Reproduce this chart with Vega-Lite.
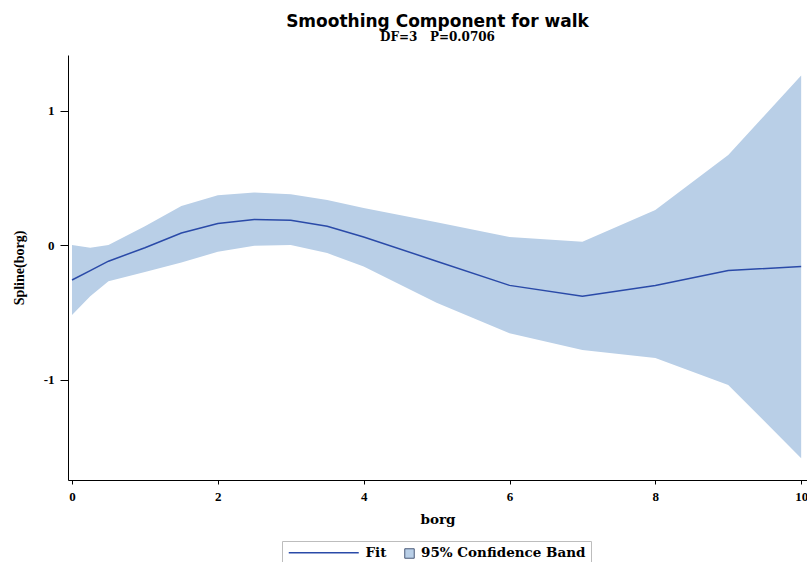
{
  "$schema": "https://vega.github.io/schema/vega-lite/v6.json",
  "width": 739,
  "height": 425,
  "autosize": "none",
  "padding": {"left": 68, "top": 55, "right": 0, "bottom": 82},
  "background": "white",
  "title": {
    "text": "Smoothing Component for walk",
    "subtitle": "DF=3\u00a0\u00a0\u00a0P=0.0706",
    "font": "DejaVu Sans",
    "fontSize": 17,
    "fontWeight": "bold",
    "color": "black",
    "subtitleFont": "DejaVu Serif",
    "subtitleFontSize": 12,
    "subtitleFontWeight": "bold",
    "subtitleColor": "black",
    "subtitlePadding": 1,
    "anchor": "middle",
    "offset": 11
  },
  "data": {
    "values": [
      {"borg": 0, "fit": -0.26, "lower": -0.52, "upper": 0.0},
      {"borg": 0.25, "fit": -0.19, "lower": -0.38, "upper": -0.02},
      {"borg": 0.5, "fit": -0.12, "lower": -0.27, "upper": 0.0},
      {"borg": 1, "fit": -0.02, "lower": -0.2, "upper": 0.14},
      {"borg": 1.5, "fit": 0.09, "lower": -0.13, "upper": 0.29},
      {"borg": 2, "fit": 0.16, "lower": -0.05, "upper": 0.37},
      {"borg": 2.5, "fit": 0.19, "lower": -0.005, "upper": 0.39},
      {"borg": 3, "fit": 0.185, "lower": 0.0, "upper": 0.377},
      {"borg": 3.5, "fit": 0.14, "lower": -0.06, "upper": 0.335},
      {"borg": 4, "fit": 0.06, "lower": -0.16, "upper": 0.275},
      {"borg": 5, "fit": -0.12, "lower": -0.43, "upper": 0.17},
      {"borg": 6, "fit": -0.3, "lower": -0.655, "upper": 0.06},
      {"borg": 7, "fit": -0.38, "lower": -0.78, "upper": 0.025},
      {"borg": 8, "fit": -0.3, "lower": -0.84, "upper": 0.26},
      {"borg": 9, "fit": -0.19, "lower": -1.04, "upper": 0.67},
      {"borg": 10, "fit": -0.16, "lower": -1.585, "upper": 1.26}
    ]
  },
  "encoding": {
    "x": {
      "field": "borg",
      "type": "quantitative",
      "scale": {"domain": [-0.055, 10.08], "nice": false, "zero": false},
      "axis": {
        "title": "borg",
        "values": [0, 2, 4, 6, 8, 10],
        "format": "d",
        "grid": false,
        "domainColor": "black",
        "tickColor": "black",
        "tickSize": 4,
        "labelPadding": 6,
        "labelFont": "Liberation Serif",
        "labelFontSize": 13,
        "labelFontWeight": "bold",
        "labelColor": "black",
        "labelFlush": false,
        "titleFont": "DejaVu Serif",
        "titleFontSize": 13.5,
        "titleFontWeight": "bold",
        "titleColor": "black",
        "titlePadding": 9
      }
    }
  },
  "layer": [
    {
      "mark": {"type": "area", "opacity": 1},
      "encoding": {
        "y": {
          "field": "lower",
          "type": "quantitative",
          "scale": {"domain": [-1.747, 1.413], "nice": false, "zero": false},
          "axis": {
            "title": "Spline(borg)",
            "values": [-1, 0, 1],
            "labelExpr": "datum.value < 0 ? '-' + abs(datum.value) : '' + datum.value",
            "grid": false,
            "domainColor": "black",
            "tickColor": "black",
            "tickSize": 8,
            "labelPadding": 6,
            "labelFont": "Liberation Serif",
            "labelFontSize": 13,
            "labelFontWeight": "bold",
            "labelColor": "black",
            "titleFont": "Liberation Serif",
            "titleFontSize": 14,
            "titleFontWeight": "bold",
            "titleColor": "black",
            "titlePadding": 17
          }
        },
        "y2": {"field": "upper"},
        "fill": {
          "datum": "95% Confidence Band",
          "scale": {"range": ["#b9cfe7"]},
          "legend": {
            "title": null,
            "orient": "none",
            "legendX": 336,
            "legendY": 493,
            "padding": 0,
            "symbolType": "square",
            "symbolSize": 90,
            "symbolStrokeColor": "#4a5a78",
            "symbolStrokeWidth": 1,
            "symbolOpacity": 1,
            "labelExpr": "''",
            "labelFontSize": 1,
            "labelOffset": 0
          }
        }
      }
    },
    {
      "mark": {"type": "rule", "color": "#a6a6a6", "strokeWidth": 1.5},
      "encoding": {"y": {"datum": 0}}
    },
    {
      "mark": {"type": "line", "strokeWidth": 1.5},
      "encoding": {
        "y": {"field": "fit", "type": "quantitative"},
        "stroke": {
          "datum": "Fit",
          "scale": {"range": ["#2a4aa8"]},
          "legend": {
            "title": "95% Confidence Band",
            "titleOrient": "right",
            "titlePadding": 35,
            "titleFont": "DejaVu Serif",
            "titleFontSize": 13.5,
            "titleFontWeight": "bold",
            "titleColor": "black",
            "titleAnchor": "start",
            "titleBaseline": "top",
            "orient": "none",
            "legendX": 214,
            "legendY": 486,
            "padding": 5,
            "strokeColor": "#bdbdbd",
            "symbolType": "M0,0H14",
            "symbolSize": 100,
            "symbolOffset": -5,
            "symbolStrokeWidth": 1.5,
            "labelFont": "DejaVu Serif",
            "labelFontSize": 13.5,
            "labelFontWeight": "bold",
            "labelColor": "black",
            "labelOffset": 70,
            "labelLimit": 400
          }
        }
      }
    }
  ],
  "config": {
    "view": {"stroke": null}
  }
}
